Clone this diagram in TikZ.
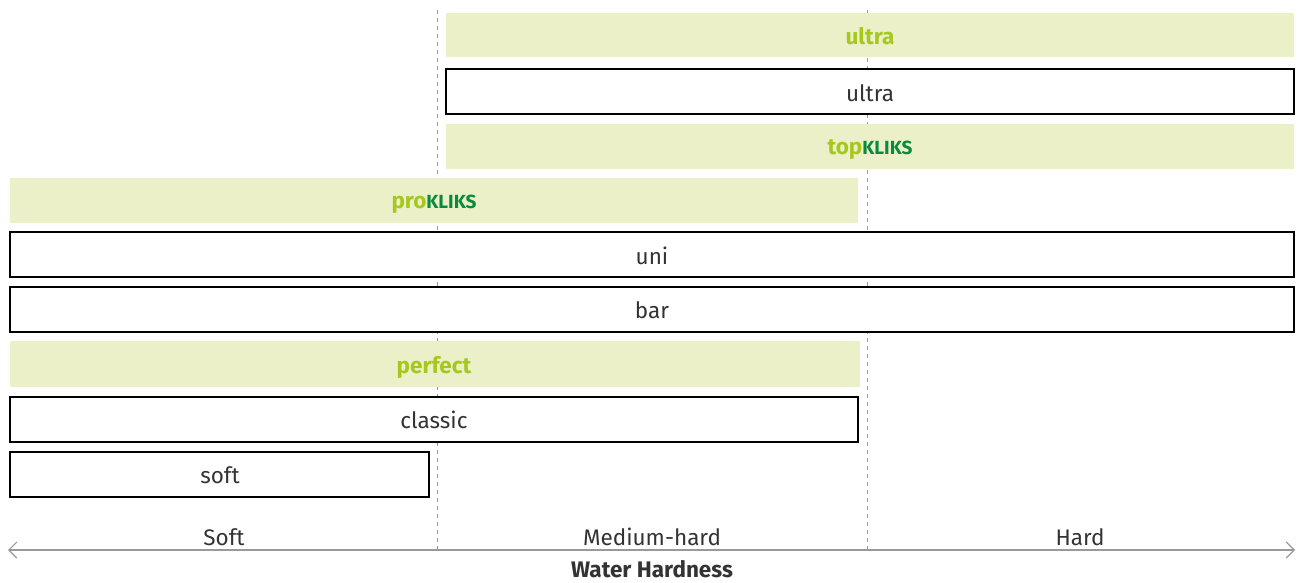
\documentclass[tikz,border=0pt]{standalone}
\usepackage{fontspec}
\setmainfont{Fira Sans}
\usetikzlibrary{arrows.meta}
\definecolor{txt}{HTML}{333333}
\definecolor{lgfill}{HTML}{EBF0C8}
\definecolor{lgtxt}{HTML}{A6C81E}
\definecolor{dgtxt}{HTML}{0A8A40}
\definecolor{axisgray}{HTML}{999999}
\newcommand{\kliks}{{\color{dgtxt}\fontsize{19}{19}\selectfont\bfseries KLIKS}}
\begin{document}
\begin{tikzpicture}[x=1pt,y=-1pt,
  every node/.style={font=\fontsize{22.5}{22.5}\selectfont, text=txt, inner sep=0pt},
  greenbar/.style={fill=lgfill, draw=none},
  whitebar/.style={fill=white, draw=black, line width=1.2pt},
  gtext/.style={text=lgtxt, font=\fontsize{22.5}{22.5}\selectfont\bfseries},
  guide/.style={draw=axisgray, line width=0.9pt, dash pattern=on 4pt off 4pt},
  axis/.style={draw=axisgray, line width=1.2pt, {Straight Barb[length=8pt,width=16pt]}-{Straight Barb[length=8pt,width=16pt]}}]
\useasboundingbox (0,0) rectangle (1300,582);
% guide lines
\coordinate (g1t) at (437,10); \coordinate (g1b) at (437,550);
\coordinate (g2t) at (867,10); \coordinate (g2b) at (867,550);
\draw[guide] (g1t) -- (g1b);
\draw[guide] (g2t) -- (g2b);
% bars
\draw[greenbar] (446,13) rectangle (1294,57);
\node[gtext] (ultraG) at (870,36) {ultra};
\draw[whitebar] (446,69) rectangle (1294,114);
\node (ultraW) at (870,93) {ultra};
\draw[greenbar] (446,124) rectangle (1294,169);
\node[gtext] (top) at (870,150) {top\kliks};
\draw[greenbar] (10,178) rectangle (858,223);
\node[gtext] (pro) at (434,204) {pro\kliks};
\draw[whitebar] (10,232) rectangle (1294,277);
\node (uni) at (652,256) {uni};
\draw[whitebar] (10,287) rectangle (1294,332);
\node (bar) at (652,310) {bar};
\draw[greenbar] (10,341) rectangle (860,387);
\node[gtext] (perfect) at (434,367) {perfect};
\draw[whitebar] (10,397) rectangle (858,442);
\node (classic) at (434,420) {classic};
\draw[whitebar] (10,452) rectangle (429,497);
\node (softb) at (220,475) {soft};
% axis
\coordinate (al) at (8,550); \coordinate (ar) at (1295,550);
\draw[axis] (al) -- (ar);
\node (soft) at (224,537) {Soft};
\node (med) at (652,537) {Medium-hard};
\node (hard) at (1080,537) {Hard};
\node[font=\fontsize{22.5}{22.5}\selectfont\bfseries] (wh) at (652,569) {Water Hardness};
\end{tikzpicture}
\end{document}
